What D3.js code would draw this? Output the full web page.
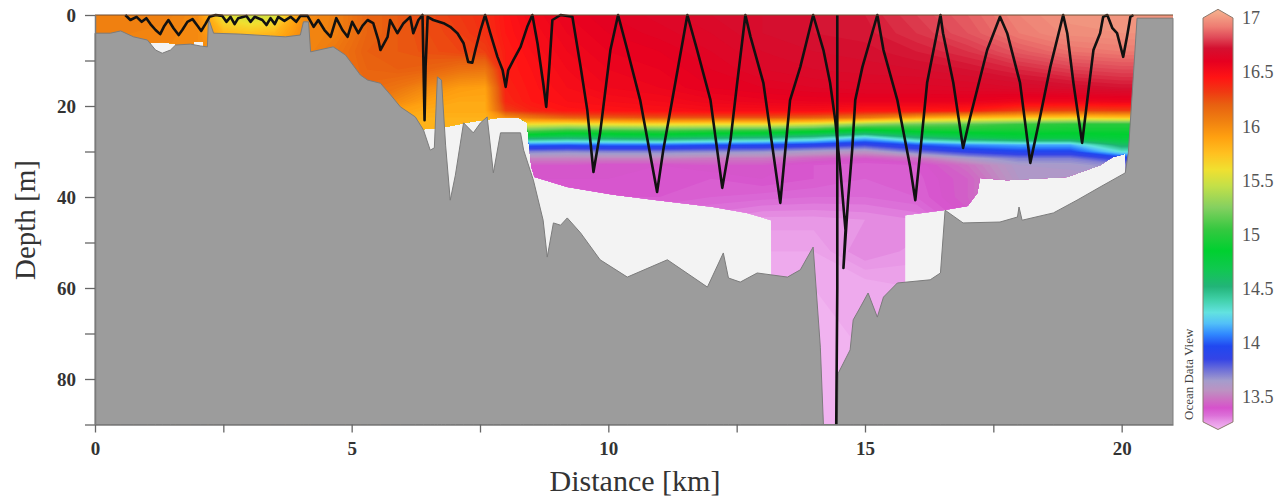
<!DOCTYPE html>
<html>
<head>
<meta charset="utf-8">
<script src="https://cdn.jsdelivr.net/npm/d3@7"></script>
<style>
  body { margin: 0; background: #fff; }
  svg { display: block; font-family: "Liberation Serif", "Times New Roman", serif; }
</style>
</head>
<body>
<svg id="chart" width="1288" height="500"></svg>
<script>
// stations along the section (km) and sampled depths (m)
const stations = [0, 0.7, 1.4, 2.0, 2.5, 3.0, 3.5, 4.1, 4.7, 5.3, 5.9, 6.5, 7.1, 7.6, 8.0, 8.5, 9.2, 10, 11, 12, 13, 14, 15, 16, 17, 18, 19, 20, 21];
const depths = [0, 4, 8, 12, 16, 19, 21, 22.5, 24, 25.5, 27, 28.5, 30, 31.5, 33, 36, 40, 45, 52, 60, 75, 90];

// temperature (deg C), one row per depth, one column per station
const temperature = [
  [16.05,16.05,16.05,16.00,15.55,15.45,15.50,16.00,16.05,16.18,16.22,16.27,16.32,16.36,16.45,16.52,16.58,16.62,16.65,16.68,16.70,16.72,16.74,16.80,16.86,16.94,16.99,17.00,17.00], // 0
  [16.05,16.04,16.03,16.00,15.80,15.75,15.80,16.02,16.05,16.18,16.22,16.26,16.30,16.35,16.44,16.50,16.56,16.60,16.63,16.66,16.70,16.72,16.73,16.78,16.84,16.92,16.97,16.98,16.98], // 4
  [16.05,16.03,16.02,16.00,15.95,15.95,15.95,16.02,16.10,16.20,16.22,16.25,16.28,16.30,16.42,16.48,16.54,16.58,16.60,16.64,16.68,16.70,16.71,16.74,16.78,16.85,16.90,16.92,16.92], // 8
  [16.05,16.05,16.05,16.05,16.05,16.05,16.05,16.05,16.10,16.18,16.20,16.18,16.12,16.10,16.42,16.46,16.52,16.56,16.58,16.62,16.66,16.68,16.69,16.70,16.72,16.76,16.80,16.82,16.82], // 12
  [16.10,16.10,16.10,16.10,16.10,16.10,16.10,16.10,16.10,16.15,16.10,16.00,15.92,15.90,16.40,16.45,16.50,16.54,16.56,16.60,16.62,16.64,16.65,16.65,16.66,16.68,16.70,16.72,16.72], // 16
  [16.10,16.10,16.10,16.10,16.10,16.10,16.10,16.10,16.10,16.10,16.00,15.90,15.86,15.86,16.38,16.44,16.48,16.50,16.52,16.55,16.57,16.58,16.58,16.58,16.58,16.55,16.55,16.56,16.56], // 19
  [16.00,16.00,16.00,16.00,16.00,16.00,16.00,16.00,16.00,16.00,15.90,15.85,15.85,15.85,16.30,16.40,16.45,16.46,16.48,16.50,16.50,16.50,16.45,16.45,16.42,16.30,16.28,16.30,16.30], // 21
  [15.95,15.95,15.95,15.95,15.95,15.95,15.95,15.95,15.95,15.95,15.85,15.82,15.82,15.82,16.00,16.10,16.20,16.22,16.25,16.25,16.25,16.20,16.10,15.90,15.80,15.75,15.70,15.75,15.75], // 22.5
  [15.90,15.90,15.90,15.90,15.90,15.90,15.90,15.90,15.90,15.90,15.82,15.80,15.80,15.80,15.70,15.60,15.55,15.60,15.62,15.60,15.60,15.50,15.30,15.20,15.15,15.05,15.00,15.00,15.00], // 24
  [15.90,15.90,15.90,15.90,15.90,15.90,15.90,15.90,15.90,15.90,15.82,15.80,15.80,15.80,15.20,15.10,15.00,15.02,15.05,15.00,14.98,14.90,14.75,14.88,14.92,14.92,14.90,14.90,14.90], // 25.5
  [15.90,15.90,15.90,15.90,15.90,15.90,15.90,15.90,15.90,15.90,15.82,15.80,15.80,15.80,14.70,14.60,14.55,14.60,14.62,14.55,14.50,14.40,14.20,14.50,14.65,14.75,14.75,14.80,14.80], // 27
  [15.90,15.90,15.90,15.90,15.90,15.90,15.90,15.90,15.90,15.90,15.82,15.80,15.80,15.80,14.10,14.05,14.02,14.05,14.05,14.00,13.98,13.92,13.85,14.00,14.10,14.15,14.15,14.60,14.60], // 28.5
  [15.90,15.90,15.90,15.90,15.90,15.90,15.90,15.90,15.90,15.90,15.82,15.80,15.80,15.80,13.75,13.72,13.70,13.72,13.72,13.70,13.68,13.62,13.58,13.75,13.88,13.95,13.95,14.30,14.30], // 30
  [15.90,15.90,15.90,15.90,15.90,15.90,15.90,15.90,15.90,15.90,15.82,15.80,15.80,15.80,13.55,13.52,13.52,13.52,13.52,13.50,13.50,13.45,13.42,13.48,13.62,13.72,13.72,13.90,13.90], // 31.5
  [15.90,15.90,15.90,15.90,15.90,15.90,15.90,15.90,15.90,15.90,15.82,15.80,15.80,15.80,13.45,13.42,13.42,13.40,13.40,13.42,13.42,13.38,13.36,13.38,13.48,13.62,13.63,13.70,13.70], // 33
  [15.90,15.90,15.90,15.90,15.90,15.90,15.90,15.90,15.90,15.90,15.82,15.80,15.80,15.80,13.40,13.40,13.40,13.40,13.38,13.38,13.40,13.38,13.36,13.37,13.44,13.60,13.60,13.62,13.62], // 36
  [15.90,15.90,15.90,15.90,15.90,15.90,15.90,15.90,15.90,15.90,15.82,15.80,15.80,15.80,13.38,13.38,13.38,13.38,13.38,13.36,13.35,13.34,13.34,13.36,13.44,13.60,13.60,13.60,13.60], // 40
  [15.90,15.90,15.90,15.90,15.90,15.90,15.90,15.90,15.90,15.90,15.82,15.80,15.80,15.80,13.32,13.32,13.32,13.32,13.32,13.30,13.27,13.27,13.28,13.30,13.40,13.60,13.60,13.60,13.60], // 45
  [15.90,15.90,15.90,15.90,15.90,15.90,15.90,15.90,15.90,15.90,15.82,15.80,15.80,15.80,13.28,13.28,13.28,13.28,13.28,13.27,13.24,13.24,13.30,13.27,13.35,13.60,13.60,13.60,13.60], // 52
  [15.90,15.90,15.90,15.90,15.90,15.90,15.90,15.90,15.90,15.90,15.82,15.80,15.80,15.80,13.25,13.25,13.25,13.25,13.25,13.24,13.22,13.22,13.22,13.24,13.30,13.60,13.60,13.60,13.60], // 60
  [15.90,15.90,15.90,15.90,15.90,15.90,15.90,15.90,15.90,15.90,15.82,15.80,15.80,15.80,13.22,13.22,13.22,13.22,13.22,13.21,13.21,13.21,13.22,13.22,13.28,13.60,13.60,13.60,13.60], // 75
  [15.90,15.90,15.90,15.90,15.90,15.90,15.90,15.90,15.90,15.90,15.82,15.80,15.80,15.80,13.20,13.20,13.20,13.20,13.20,13.20,13.20,13.20,13.20,13.22,13.28,13.60,13.60,13.60,13.60]  // 90
];

// bottom of the gridded data (below it: no data, white)
const edgeKm    = [0, 1.02, 1.02, 1.31, 1.57, 1.57, 1.92, 1.92, 2.11, 2.11, 6.2, 6.2, 6.75, 7.3, 7.9, 8.25, 8.42, 8.45, 8.5, 8.56, 9.2, 10.1, 10.95, 12.04, 12.7, 13.17, 13.19, 15.78, 15.78, 16.52, 17.0, 17.19, 17.24, 17.77, 18.94, 19.58, 19.83, 20.07, 20.11, 21];
const edgeDepth = [90, 90, 6.2, 6.0, 6.3, 90, 90, 5.9, 5.9, 90, 90, 25.3, 24.8, 23.5, 22.5, 22.5, 23.7, 28, 33.4, 35.6, 37.8, 39.5, 40.7, 42.2, 43.5, 45.1, 90, 90, 44.0, 42.9, 42.0, 39.1, 35.8, 36.3, 35.6, 33.0, 31.2, 30.5, 90, 90];

// sea floor
const bathyKm = [0, 0.30, 0.50, 0.75, 1.02, 1.18, 1.31, 1.47, 1.57, 1.86, 2.05, 2.19, 2.21, 2.31, 2.83, 3.42, 3.71, 4.00, 4.06, 4.16, 4.20, 4.64, 4.88, 5.17, 5.31, 5.56, 5.76, 5.95, 6.24, 6.40, 6.53, 6.61, 6.67, 6.75, 6.83, 6.92, 7.02, 7.18, 7.37, 7.51, 7.64, 7.76, 7.90, 8.29, 8.35, 8.54, 8.73, 8.81, 8.93, 9.07, 9.20, 9.46, 9.84, 10.37, 11.15, 11.93, 12.24, 12.34, 12.57, 12.90, 13.49, 13.74, 13.99, 14.13, 14.19, 14.46, 14.48, 14.71, 14.77, 14.91, 15.06, 15.24, 15.36, 15.63, 16.27, 16.47, 16.56, 16.91, 17.63, 17.97, 18.00, 18.06, 18.67, 19.13, 19.58, 20.07, 20.13, 20.30, 21.00];
const bathyDepth = [4.0, 4.0, 3.5, 4.8, 5.5, 7.7, 8.4, 7.7, 6.6, 6.4, 6.8, 7.0, 0.7, 4.0, 4.2, 4.6, 4.8, 4.4, 1.5, 1.5, 8.1, 7.0, 8.8, 13.2, 14.3, 15.0, 17.6, 20.2, 22.4, 25.3, 29.7, 29.2, 13.6, 14.3, 28.6, 40.7, 35.2, 23.7, 25.9, 23.7, 22.4, 34.7, 25.9, 25.9, 29.7, 36.3, 45.1, 53.2, 45.7, 46.2, 44.6, 47.9, 53.8, 57.6, 53.8, 59.8, 52.3, 57.8, 58.7, 56.7, 57.6, 56.0, 51.0, 73.0, 90, 90, 78.7, 73.6, 67.0, 64.2, 61.1, 66.4, 62.0, 58.9, 58.2, 56.7, 42.9, 45.7, 45.5, 44.4, 42.2, 45.1, 43.5, 40.7, 37.8, 34.7, 30.3, 0.7, 0.7];

// towed instrument track [km, m]
const trace = [
  [0.59,0],[0.69,1.1],[0.81,0.4],[0.91,1.5],[1.00,0.7],[1.08,2.0],[1.18,3.3],[1.27,4.2],[1.35,2.4],[1.43,1.1],[1.53,2.9],[1.63,4.4],[1.70,3.3],[1.80,1.5],[1.90,0.9],[2.00,2.4],[2.07,3.5],[2.15,2.0],[2.23,0.4],[2.35,0],
  [2.48,0.2],[2.56,1.5],[2.64,0.4],[2.72,2.0],[2.79,0.7],[2.95,0.2],[3.03,1.5],[3.11,0.4],[3.26,1.1],[3.34,2.2],[3.42,0.7],[3.50,2.0],[3.57,0.4],[3.69,1.3],[3.81,0.4],[3.92,1.5],[4.00,0.2],
  [4.14,0.2],[4.26,2.6],[4.35,1.1],[4.47,3.3],[4.59,4.8],[4.70,0.7],[4.82,3.3],[4.92,4.8],[5.01,1.5],[5.13,4.0],[5.21,2.4],[5.31,1.1],[5.42,1.8],[5.52,5.5],[5.56,7.7],[5.70,4.8],[5.75,1.1],[5.89,4.0],[6.01,1.8],[6.14,0.4],[6.20,4.0],[6.30,1.1],[6.38,0],[6.40,11.4],[6.42,23.1],[6.44,11.4],[6.48,0.4],
  [6.59,1.1],[6.79,1.8],[6.92,2.6],[7.06,4.0],[7.18,6.2],[7.27,10.3],[7.35,10.5],[7.41,7.7],[7.51,3.3],[7.60,0],[7.70,4.0],[7.84,9.2],[7.94,12.1],[8.00,15.8],[8.05,12.1],[8.15,9.9],[8.29,7.0],[8.42,2.6],[8.52,0],[8.62,6.2],[8.73,14.9],[8.79,20.2],[8.85,11.4],[8.91,1.1],[9.07,0],
  [9.30,0.4],[9.46,11.4],[9.59,20.9],[9.71,34.5],[9.84,25.9],[10.04,7.7],[10.19,0],[10.37,7.7],[10.62,18.7],[10.95,38.9],[11.07,29.7],[11.27,17.1],[11.54,0],[11.73,7.7],[11.99,18.7],[12.22,38.0],[12.38,27.5],[12.51,14.9],[12.67,0],[12.77,4.8],[13.02,14.9],[13.35,41.3],[13.54,18.7],[13.74,11.4],[13.99,0],
  [14.19,7.7],[14.32,14.9],[14.42,23.1],[14.52,34.1],[14.62,47.3],[14.58,55.6],[14.67,40.7],[14.75,29.7],[14.81,18.7],[14.95,11.4],[15.24,0],[15.36,7.7],[15.63,18.7],[15.88,33.4],[15.98,40.7],[16.08,29.7],[16.21,14.9],[16.47,0],[16.52,4.0],[16.72,14.9],[16.91,29.2],[17.05,22.4],[17.38,7.7],[17.63,0.4],
  [17.77,4.0],[18.02,14.9],[18.22,32.5],[18.41,22.4],[18.61,11.4],[18.86,0],[18.94,4.0],[19.06,14.9],[19.23,28.1],[19.33,18.7],[19.45,7.7],[19.58,4.0],[19.64,0.4],[19.72,0],[19.82,2.9],[19.91,4.0],[19.97,6.6],[20.03,9.2],[20.11,4.4],[20.17,0.4],[20.23,0]
];

// single full-depth cast
const castKm = [14.46, 14.46, 14.44];
const castDepth = [0, 60, 90];

// ODV-like palette
const colorValues = [13.20, 13.27, 13.33, 13.40, 13.48, 13.56, 13.65, 13.75, 13.85, 13.97, 14.08, 14.18, 14.28, 14.40, 14.52, 14.68, 14.85, 15.05, 15.25, 15.45, 15.60, 15.75, 15.90, 16.05, 16.20, 16.32, 16.45, 16.60, 16.72, 16.82, 16.92, 17.05];
const colorHex = ["#f2b8f2","#e898e6","#dc70d8","#d652cc","#cc72c2","#bc92c2","#a49ccc","#6e70d8","#3444e6","#2048f0","#3088ff","#52c0f8","#62e2e0","#40d0a8","#22b478","#10c850","#00d030","#36c840","#84d060","#c4e048","#f0e030","#ffc020","#ffa010","#f08010","#e86010","#f03812","#ff1414","#e60020","#d41030","#e04a58","#ee7c72","#f4aa8a"];

const xTicks = [0, 2.5, 5, 7.5, 10, 12.5, 15, 17.5, 20];
const xTickLabels = ["0", "", "5", "", "10", "", "15", "", "20"];
const yTicks = [0, 10, 20, 30, 40, 50, 60, 70, 80, 90];
const yTickLabels = ["0", "", "20", "", "40", "", "60", "", "80", ""];
const barTicks = [13.5, 14, 14.5, 15, 15.5, 16, 16.5, 17];

var svg = d3.select("#chart");
var defs = svg.append("defs");

var x = d3.scaleLinear().domain([0, 21]).range([95, 1173]);
var y = d3.scaleLinear().domain([0, 90]).range([15, 424.5]);
var color = d3.scaleLinear().domain(colorValues).range(colorHex).clamp(true);

// no-data background
svg.append("rect")
  .attr("x", x(0)).attr("y", y(0))
  .attr("width", x(21) - x(0)).attr("height", y(90) - y(0))
  .attr("fill", "#f3f3f3");

// clip the field to where there is data
var edge = edgeKm.map(function (k, i) { return [k, edgeDepth[i]]; });
defs.append("clipPath").attr("id", "data-clip")
  .append("path")
  .attr("d", d3.area().x(function (d) { return x(d[0]); }).y0(y(0)).y1(function (d) { return y(d[1]); })(edge));

// filled contours of the gridded field
var n = stations.length, m = depths.length;
var values = [];
temperature.forEach(function (row) { row.forEach(function (v) { values.push(v); }); });

// grid index -> km / m (value i sits at i + 0.5)
var gx = d3.scaleLinear()
  .domain([0].concat(stations.map(function (d, i) { return i + 0.5; }), [n]))
  .range([stations[0]].concat(stations, [stations[n - 1]]));
var gy = d3.scaleLinear()
  .domain([0].concat(depths.map(function (d, i) { return i + 0.5; }), [m]))
  .range([depths[0]].concat(depths, [depths[m - 1]]));

var gridPath = d3.geoPath(d3.geoTransform({
  point: function (px, py) { this.stream.point(x(gx(px)), y(gy(py))); }
}));

var step = 0.02;
var contours = d3.contours().size([n, m]).thresholds(d3.range(13.1, 17.1, step))(values);

svg.append("g")
  .attr("clip-path", "url(#data-clip)")
  .selectAll("path")
  .data(contours)
  .join("path")
  .attr("d", gridPath)
  .attr("fill", function (d) { return color(d.value + step / 2); });

// sea floor
var bathy = bathyKm.map(function (k, i) { return [k, bathyDepth[i]]; });
svg.append("path")
  .datum(bathy)
  .attr("d", d3.area().x(function (d) { return x(d[0]); }).y0(function (d) { return y(d[1]); }).y1(y(90)))
  .attr("fill", "#9c9c9c")
  .attr("stroke", "#7c7c7c")
  .attr("stroke-width", 1);

// track and cast
svg.append("path")
  .datum(trace)
  .attr("d", d3.line().x(function (d) { return x(d[0]); }).y(function (d) { return y(d[1]); }))
  .attr("fill", "none")
  .attr("stroke", "#111")
  .attr("stroke-width", 2.6)
  .attr("stroke-linejoin", "round");

svg.append("path")
  .datum(castKm.map(function (k, i) { return [k, castDepth[i]]; }))
  .attr("d", d3.line().x(function (d) { return x(d[0]); }).y(function (d) { return y(d[1]); }))
  .attr("fill", "none")
  .attr("stroke", "#111")
  .attr("stroke-width", 2.6);

// frame top
svg.append("line")
  .attr("x1", x(0)).attr("x2", x(21)).attr("y1", y(0)).attr("y2", y(0))
  .attr("stroke", "#6e4c33").attr("stroke-width", 1.2);

// axes
function styleAxis(g) {
  g.select(".domain").attr("stroke", "#7a7a7a").attr("stroke-width", 1.5);
  g.selectAll(".tick line").attr("stroke", "#666").attr("stroke-width", 1.3);
  g.selectAll(".tick text")
    .attr("fill", "#333")
    .attr("font-size", "19px")
    .attr("font-weight", "bold")
    .attr("font-family", "'Liberation Serif', serif");
}

svg.append("g")
  .attr("transform", "translate(0," + y(90) + ")")
  .call(d3.axisBottom(x).tickValues(xTicks).tickSize(8).tickSizeOuter(0).tickPadding(9)
    .tickFormat(function (d, i) { return xTickLabels[i]; }))
  .call(styleAxis);

svg.append("g")
  .attr("transform", "translate(" + x(0) + ",0)")
  .call(d3.axisLeft(y).tickValues(yTicks).tickSize(10).tickSizeOuter(0).tickPadding(9)
    .tickFormat(function (d, i) { return yTickLabels[i]; }))
  .call(styleAxis);

svg.append("text")
  .attr("x", 635).attr("y", 491)
  .attr("text-anchor", "middle")
  .attr("font-size", "30px")
  .attr("fill", "#333")
  .text("Distance [km]");

svg.append("text")
  .attr("transform", "translate(35,220) rotate(-90)")
  .attr("text-anchor", "middle")
  .attr("font-size", "29px")
  .attr("fill", "#333")
  .text("Depth [m]");

// colour bar
var cbTop = 17.08, cbBottom = 13.2;
var cb = d3.scaleLinear().domain([cbBottom, cbTop]).range([429.5, 9.3]);
var cbStops = colorValues.map(function (v, i) {
  return { offset: Math.max(0, Math.min(1, (cbTop - v) / (cbTop - cbBottom))), color: colorHex[i] };
}).reverse();

var grad = defs.append("linearGradient")
  .attr("id", "cbar")
  .attr("gradientUnits", "userSpaceOnUse")
  .attr("x1", 0).attr("x2", 0)
  .attr("y1", cb(cbTop)).attr("y2", cb(cbBottom));
grad.selectAll("stop")
  .data(cbStops)
  .join("stop")
  .attr("offset", function (d) { return d.offset; })
  .attr("stop-color", function (d) { return d.color; });

var bx0 = 1203, bx1 = 1233, bxm = (bx0 + bx1) / 2;
svg.append("path")
  .attr("d", "M" + bxm + "," + cb(cbTop) + "L" + bx1 + "," + cb(17.0) + "L" + bx1 + "," + cb(13.27) +
    "L" + bxm + "," + cb(cbBottom) + "L" + bx0 + "," + cb(13.27) + "L" + bx0 + "," + cb(17.0) + "Z")
  .attr("fill", "url(#cbar)")
  .attr("stroke", "#8c7a6e")
  .attr("stroke-width", 1);

var cbAxis = svg.append("g")
  .attr("transform", "translate(" + bx1 + ",0)")
  .call(d3.axisRight(cb).tickValues(barTicks).tickSize(0).tickPadding(9).tickFormat(d3.format("")));
cbAxis.select(".domain").remove();
cbAxis.selectAll(".tick text")
  .attr("fill", "#555")
  .attr("font-size", "18px")
  .attr("font-family", "'Liberation Serif', serif");

svg.append("text")
  .attr("transform", "translate(1193,420) rotate(-90)")
  .attr("font-size", "13px")
  .attr("fill", "#444")
  .text("Ocean Data View");
</script>
</body>
</html>
